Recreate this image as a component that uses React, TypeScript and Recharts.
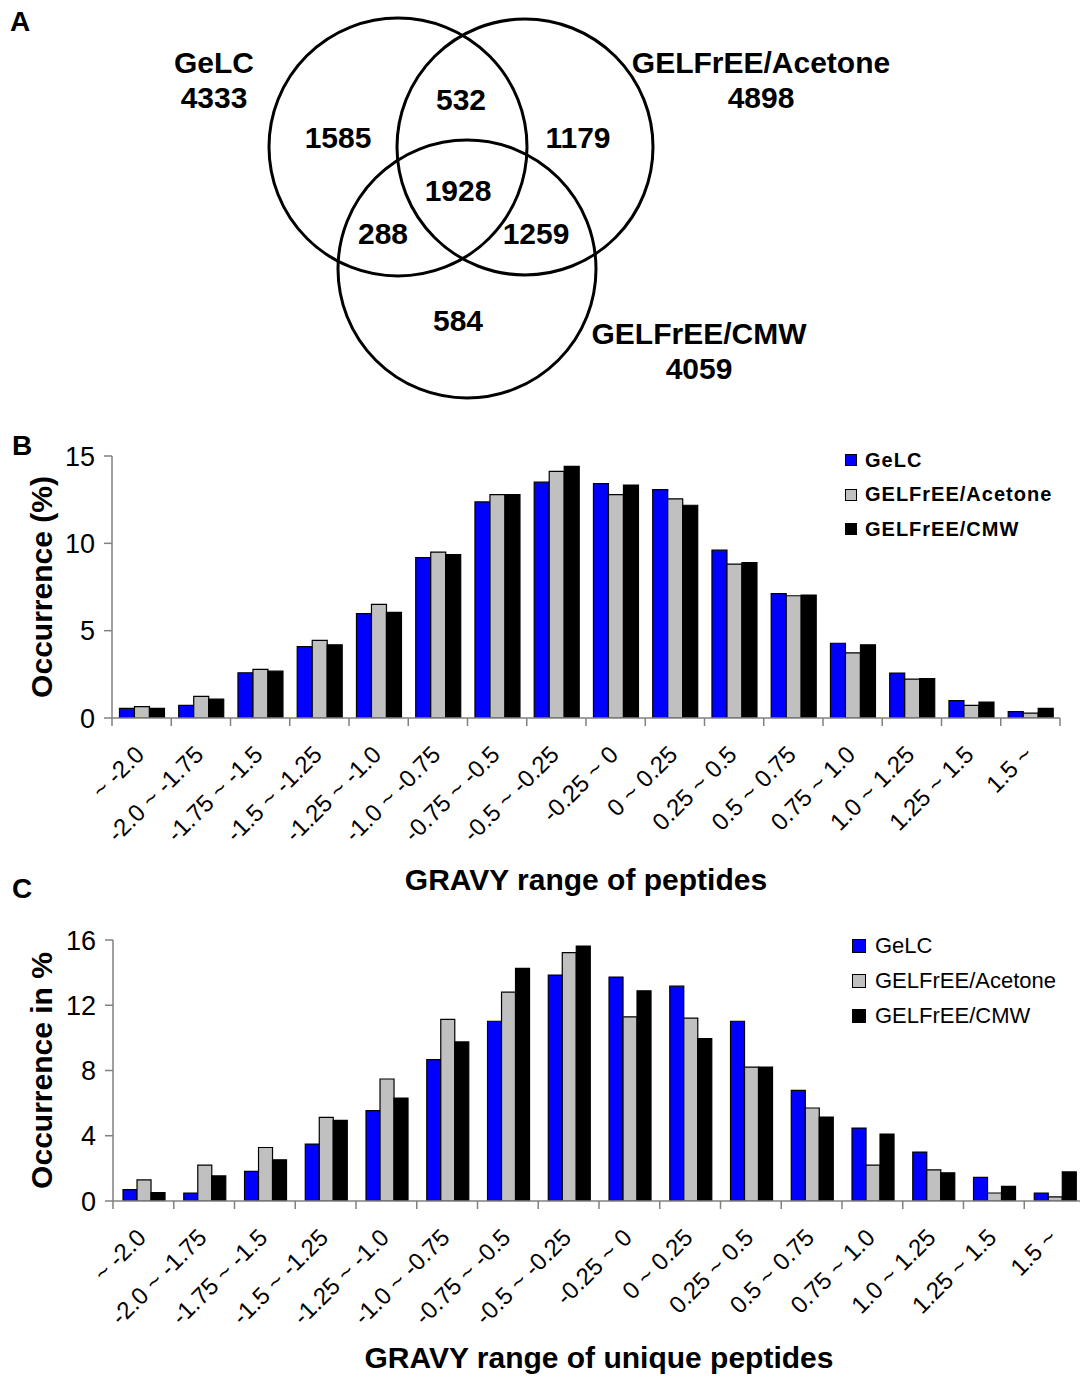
import React from 'react';
import { BarChart, Bar, XAxis, YAxis, Legend, ScatterChart, Scatter } from 'recharts';

const FONT = "'Liberation Sans', Arial, Helvetica, sans-serif";
const AXIS_GREY = '#808080';

// GRAVY bins, shared by panels B and C
const gravyBins = [
  '~ -2.0', '-2.0 ~ -1.75', '-1.75 ~ -1.5', '-1.5 ~ -1.25', '-1.25 ~ -1.0', '-1.0 ~ -0.75',
  '-0.75 ~ -0.5', '-0.5 ~ -0.25', '-0.25 ~ 0', '0 ~ 0.25', '0.25 ~ 0.5', '0.5 ~ 0.75',
  '0.75 ~ 1.0', '1.0 ~ 1.25', '1.25 ~ 1.5', '1.5 ~',
];

// Panel B - occurrence (%) of all peptides
const peptidesGeLC = [0.55, 0.72, 2.59, 4.09, 5.98, 9.18, 12.37, 13.5, 13.42, 13.08, 9.61, 7.12, 4.28, 2.57, 0.99, 0.36];
const peptidesAcetone = [0.65, 1.24, 2.78, 4.44, 6.51, 9.5, 12.79, 14.12, 12.79, 12.55, 8.81, 7.0, 3.73, 2.23, 0.72, 0.28];
const peptidesCMW = [0.55, 1.08, 2.68, 4.19, 6.05, 9.35, 12.79, 14.41, 13.34, 12.18, 8.89, 7.04, 4.19, 2.25, 0.91, 0.55];
const peptideTicks = [0, 5, 10, 15];

// Panel C - occurrence (%) of unique peptides
const uniqueGeLC = [0.7, 0.49, 1.81, 3.49, 5.54, 8.67, 11.02, 13.85, 13.73, 13.17, 11.02, 6.78, 4.47, 3.0, 1.45, 0.49];
const uniqueAcetone = [1.29, 2.2, 3.28, 5.13, 7.48, 11.13, 12.8, 15.22, 11.29, 11.21, 8.21, 5.7, 2.2, 1.91, 0.49, 0.25];
const uniqueCMW = [0.51, 1.54, 2.53, 4.94, 6.31, 9.75, 14.26, 15.63, 12.89, 9.96, 8.21, 5.15, 4.1, 1.73, 0.9, 1.78];
const uniqueTicks = [0, 4, 8, 12, 16];

const seriesKeys = ['gelc', 'acetone', 'cmw'];
const seriesNames = ['GeLC', 'GELFrEE/Acetone', 'GELFrEE/CMW'];
const seriesColors = ['#0000FF', '#C0C0C0', '#000000'];

// Panel A - protein identifications
const vennTotals = [4333, 4898, 4059];
// GeLC only, GeLC+Acetone, Acetone only, all three, GeLC+CMW, Acetone+CMW, CMW only
const vennCounts = [1585, 532, 1179, 1928, 288, 1259, 584];

// Venn layout (chart units = pixels of the panel)
const vennCircles = [
  { x: 398, y: 147, r: 129 },
  { x: 525, y: 147, r: 128 },
  { x: 467, y: 269, r: 129 },
];
const vennSetLabelPos = [
  { x: 214, y: 73 },
  { x: 761, y: 73 },
  { x: 699, y: 344 },
];
const vennCountPos = [
  { x: 338, y: 148 },
  { x: 461, y: 110 },
  { x: 578, y: 148 },
  { x: 458, y: 201 },
  { x: 383, y: 244 },
  { x: 536, y: 244 },
  { x: 458, y: 331 },
];

const buildRows = (a: number[], b: number[], c: number[]) =>
  gravyBins.map((bin, i) => ({ bin, gelc: a[i], acetone: b[i], cmw: c[i] }));

const peptideRows = buildRows(peptidesGeLC, peptidesAcetone, peptidesCMW);
const uniqueRows = buildRows(uniqueGeLC, uniqueAcetone, uniqueCMW);

const TICK_SIZE = 8;

const GravyTick = (props: any) => {
  const { x, y, payload, index, visibleTicksCount, half, labelDrop } = props;
  const h = payload && typeof payload.offset === 'number' && payload.offset > 0 ? payload.offset : half;
  const axisY = y - TICK_SIZE;
  const isLast = visibleTicksCount ? index === visibleTicksCount - 1 : payload.value === gravyBins[gravyBins.length - 1];
  return (
    <g>
      <line x1={x - h} y1={axisY} x2={x - h} y2={y} stroke={AXIS_GREY} strokeWidth={1.5} />
      {isLast && <line x1={x + h} y1={axisY} x2={x + h} y2={y} stroke={AXIS_GREY} strokeWidth={1.5} />}
      <text
        transform={`translate(${x + 4},${y + labelDrop}) rotate(-45)`}
        textAnchor="end"
        fontSize={24}
        fontFamily={FONT}
        fill="#000"
      >
        {payload.value}
      </text>
    </g>
  );
};

interface PanelProps {
  rows: any[];
  top: number;
  width: number;
  height: number;
  margin: { top: number; right: number; bottom: number; left: number };
  yAxisWidth: number;
  xAxisHeight: number;
  yMax: number;
  yTicks: number[];
  yTitle: string;
  xTitle: string;
  xTitleDrop: number;
  gap: string;
  legendBold: boolean;
  legendLeft: number;
  legendTop: number;
  legendRow: number;
  legendSquare: number;
  legendGap: number;
}

const GravyPanel: React.FC<PanelProps> = (p) => {
  const plotWidth = p.width - p.margin.left - p.margin.right - p.yAxisWidth;
  const half = plotWidth / gravyBins.length / 2;

  // keep the series order of the original legend
  const renderLegend = () => (
    <div
      style={{
        fontFamily: FONT,
        fontSize: p.legendBold ? 20 : 22,
        fontWeight: p.legendBold ? 'bold' : 'normal',
        letterSpacing: p.legendBold ? 1 : 0,
        color: '#000',
      }}
    >
      {seriesNames.map((name, i) => (
        <div key={name} style={{ display: 'flex', alignItems: 'center', height: p.legendRow, whiteSpace: 'nowrap' }}>
          <span
            style={{
              display: 'inline-block',
              width: p.legendSquare,
              height: p.legendSquare,
              background: seriesColors[i],
              border: '1px solid #000',
              boxSizing: 'border-box',
              marginRight: p.legendGap,
            }}
          />
          <span>{name}</span>
        </div>
      ))}
    </div>
  );

  return (
    <div style={{ position: 'absolute', left: 0, top: p.top }}>
      <BarChart
        width={p.width}
        height={p.height}
        data={p.rows}
        margin={p.margin}
        barCategoryGap={p.gap}
        barGap={0}
      >
        <XAxis
          dataKey="bin"
          interval={0}
          height={p.xAxisHeight}
          tickLine={false}
          tickSize={TICK_SIZE}
          tickMargin={0}
          axisLine={{ stroke: AXIS_GREY, strokeWidth: 1.5 }}
          tick={(tp: any) => <GravyTick {...tp} half={half} labelDrop={30} />}
          label={(lp: any) => {
            const vb = lp.viewBox || {};
            return (
              <text
                x={vb.x + vb.width / 2}
                y={vb.y + p.xTitleDrop}
                textAnchor="middle"
                fontSize={30}
                fontWeight="bold"
                fontFamily={FONT}
                fill="#000"
              >
                {p.xTitle}
              </text>
            );
          }}
        />
        <YAxis
          width={p.yAxisWidth}
          domain={[0, p.yMax]}
          ticks={p.yTicks}
          interval={0}
          allowDataOverflow
          tickSize={TICK_SIZE}
          tickMargin={9}
          tickLine={{ stroke: AXIS_GREY, strokeWidth: 1.5 }}
          axisLine={{ stroke: AXIS_GREY, strokeWidth: 1.5 }}
          tick={{ fill: '#000', fontSize: 27, fontFamily: FONT }}
          label={(lp: any) => {
            const vb = lp.viewBox || {};
            const cy = vb.y + vb.height / 2;
            return (
              <text
                transform={`translate(52,${cy}) rotate(-90)`}
                textAnchor="middle"
                fontSize={30}
                fontWeight="bold"
                fontFamily={FONT}
                fill="#000"
              >
                {p.yTitle}
              </text>
            );
          }}
        />
        <Legend
          layout="vertical"
          align="center"
          verticalAlign="middle"
          content={renderLegend}
          wrapperStyle={{ left: p.legendLeft, top: p.legendTop, width: 'auto', height: 'auto' }}
        />
        {seriesKeys.map((k, i) => (
          <Bar
            key={k}
            dataKey={k}
            name={seriesNames[i]}
            fill={seriesColors[i]}
            stroke="#000"
            strokeWidth={1.2}
            isAnimationActive={false}
          />
        ))}
      </BarChart>
    </div>
  );
};

const VennPanel: React.FC = () => {
  const circles = vennCircles.map((c, i) => ({ ...c, name: seriesNames[i] }));
  const setLabels = vennSetLabelPos.map((pos, i) => ({ ...pos, name: seriesNames[i], total: vennTotals[i] }));
  const counts = vennCountPos.map((pos, i) => ({ ...pos, count: vennCounts[i] }));
  const textStyle = { fontSize: 30, fontWeight: 'bold' as const, fontFamily: FONT, fill: '#000' };

  return (
    <div style={{ position: 'absolute', left: 0, top: 0 }}>
      <ScatterChart width={1080} height={430} margin={{ top: 0, right: 0, bottom: 0, left: 0 }}>
        <XAxis type="number" dataKey="x" domain={[0, 1080]} hide height={0} />
        <YAxis type="number" dataKey="y" domain={[0, 430]} reversed hide width={0} />
        <Scatter
          data={circles}
          isAnimationActive={false}
          shape={(sp: any) => (
            <circle cx={sp.cx} cy={sp.cy} r={sp.payload.r} fill="none" stroke="#000" strokeWidth={3} />
          )}
        />
        <Scatter
          data={setLabels}
          isAnimationActive={false}
          shape={(sp: any) => (
            <text x={sp.cx} y={sp.cy} textAnchor="middle" {...textStyle}>
              <tspan x={sp.cx} dy={0}>{sp.payload.name}</tspan>
              <tspan x={sp.cx} dy={35}>{sp.payload.total}</tspan>
            </text>
          )}
        />
        <Scatter
          data={counts}
          isAnimationActive={false}
          shape={(sp: any) => (
            <text x={sp.cx} y={sp.cy} textAnchor="middle" {...textStyle}>
              {sp.payload.count}
            </text>
          )}
        />
      </ScatterChart>
    </div>
  );
};

export default function App() {
  return (
    <div
      style={{
        position: 'absolute',
        left: 0,
        top: 0,
        width: 1080,
        height: 1382,
        overflow: 'hidden',
        background: '#fff',
        fontFamily: FONT,
      }}
    >
      <VennPanel />
      <GravyPanel
        rows={peptideRows}
        top={430}
        width={1080}
        height={470}
        margin={{ top: 26, right: 20, bottom: 0, left: 0 }}
        yAxisWidth={112}
        xAxisHeight={182}
        yMax={15}
        yTicks={peptideTicks}
        yTitle="Occurrence (%)"
        xTitle="GRAVY range of peptides"
        xTitleDrop={172}
        gap="12.6%"
        legendBold
        legendLeft={845}
        legendTop={13}
        legendRow={34.5}
        legendSquare={12}
        legendGap={8}
      />
      <GravyPanel
        rows={uniqueRows}
        top={900}
        width={1100}
        height={482}
        margin={{ top: 40, right: 15, bottom: 0, left: 0 }}
        yAxisWidth={113}
        xAxisHeight={181}
        yMax={16}
        yTicks={uniqueTicks}
        yTitle="Occurrence in %"
        xTitle="GRAVY range of unique peptides"
        xTitleDrop={167}
        gap="16.5%"
        legendBold={false}
        legendLeft={852}
        legendTop={28}
        legendRow={35}
        legendSquare={14}
        legendGap={9}
      />
      <svg width={1080} height={1382} style={{ position: 'absolute', left: 0, top: 0, pointerEvents: 'none' }}>
        <text x={10} y={31} fontSize={28} fontWeight="bold" fontFamily={FONT}>A</text>
        <text x={12} y={455} fontSize={28} fontWeight="bold" fontFamily={FONT}>B</text>
        <text x={12} y={898} fontSize={28} fontWeight="bold" fontFamily={FONT}>C</text>
      </svg>
    </div>
  );
}
